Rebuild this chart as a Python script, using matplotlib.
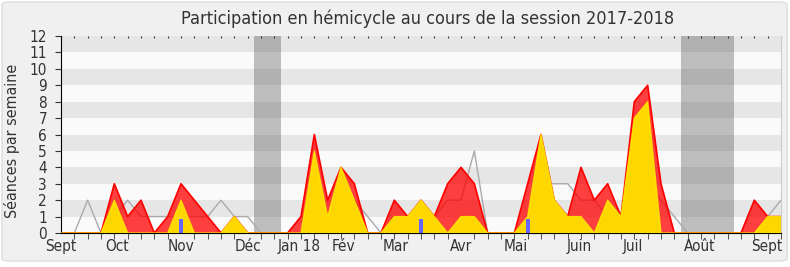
import matplotlib
matplotlib.use("Agg")
import matplotlib.pyplot as plt
import numpy as np
from matplotlib.patches import FancyBboxPatch

plt.rcParams['font.family'] = ['DejaVu Sans']
plt.rcParams['font.stretch'] = 'condensed'

title = "Participation en hémicycle au cours de la session 2017-2018"
ylabel = "Séances par semaine"

weeks = list(range(55))
presences = [0, 0, 0, 0, 3, 1, 2, 0, 1, 3, 2, 1, 0, 1, 0, 0, 0, 0, 1, 6, 2, 4, 3, 0, 0, 2, 1, 2, 1, 3,
             4, 3, 0, 0, 0, 3, 6, 2, 1, 4, 2, 3, 1, 8, 9, 3, 0, 0, 0, 0, 0, 0, 2, 1, 1]
interventions = [0, 0, 0, 0, 2, 0, 0, 0, 0, 2, 0, 0, 0, 1, 0, 0, 0, 0, 0, 5, 1, 4, 2, 0, 0, 1, 1, 2, 1, 0,
                 1, 1, 0, 0, 0, 1, 6, 2, 1, 1, 0, 2, 1, 7, 8, 0, 0, 0, 0, 0, 0, 0, 0, 1, 1]
mediane = [0, 0, 2, 0, 1, 2, 1, 1, 1, 1, 1, 1, 2, 1, 1, 0, 0, 0, 1, 1, 1, 1, 2, 1, 0, 1, 0, 1, 1, 2,
           2, 5, 0, 0, 0, 1, 3, 3, 3, 2, 2, 1, 1, 2, 3, 2, 1, 0, 0, 0, 0, 0, 0, 1, 2]
questions_weeks = [9, 27, 35]
questions_vals = [0.85, 0.85, 0.85]
vacances = [15, 16, 47, 48, 49, 50]

month_pos = [0, 4.2, 9, 14, 17.9, 21.2, 25.1, 30, 34.1, 38.9, 42.9, 47.9, 52.9]
month_labels = ["Sept", "Oct", "Nov", "Déc", "Jan 18", "Fév", "Mar", "Avr", "Mai", "Juin", "Juil", "Août", "Sept"]

fig = plt.figure(figsize=(7.9, 2.67), dpi=100)
fig.patch.set_facecolor('white')
bg = FancyBboxPatch((2/790, 6/267), 785/790, 259/267, boxstyle="round,pad=0,rounding_size=0.01",
                    transform=fig.transFigure, facecolor='#f0f0f0', edgecolor='#dcdcdc', lw=1, zorder=-10)
fig.patches.append(bg)

ax = fig.add_axes([61/790, 1-233/267, 720/790, 197/267])
ax.set_facecolor('#fafafa')
for k in range(12):
    if k % 2 == 1:
        ax.axhspan(k, k+1, color='#e6e6e6', lw=0, zorder=0)

ax.bar(vacances, [12]*len(vacances), width=1.0, color='#333333', alpha=0.3, lw=0, zorder=1)

ax.plot(weeks, mediane, color='#aaaaaa', lw=1.0, zorder=1.5)
ax.fill_between(weeks, presences, 0, facecolor='#ff0000', alpha=0.75, edgecolor='none', zorder=2)
ax.plot(weeks, presences, color='#ff0000', lw=1.2, zorder=2.5)
ax.fill_between(weeks, interventions, 0, facecolor='#ffd700', edgecolor='none', zorder=3)
ax.plot(weeks, interventions, color='#ffee00', lw=1.0, alpha=0.8, zorder=3.5)
ax.bar(questions_weeks, questions_vals, width=0.3, color='#6666ff', zorder=5)

ax.set_xlim(0, 54)
ax.set_ylim(0, 12)
ax.set_yticks(range(13))
ax.set_xticks(month_pos)
ax.set_xticklabels(month_labels)
ax.set_xticks(range(55), minor=True)
ax.tick_params(axis='x', which='major', length=0, labelsize=11, colors='#333333', pad=4)
ax.tick_params(axis='x', which='minor', length=4, direction='out', color='#333333')
ax.tick_params(axis='y', which='major', length=4, direction='out', labelsize=11, colors='#333333', pad=6)
for sp in ['left', 'bottom']:
    ax.spines[sp].set_color('black')
ax.spines['top'].set_visible(False)
ax.spines['right'].set_color('#cccccc')

fig.text(12/790, 1-141/267, ylabel, rotation=90, ha='center', va='center', fontsize=11.5, color='#333333')
fig.text(428/790, 1-19/267, title, ha='center', va='center', fontsize=13, color='#333333')

# top dotted ticks
ax2 = ax.secondary_xaxis('top')
ax2.set_xticks(range(55))
ax2.set_xticklabels([])
ax2.tick_params(length=1.5, direction='in', color='#333333')
ax2.spines['top'].set_visible(False)

fig.savefig("out.png", dpi=100, facecolor=fig.get_facecolor())
